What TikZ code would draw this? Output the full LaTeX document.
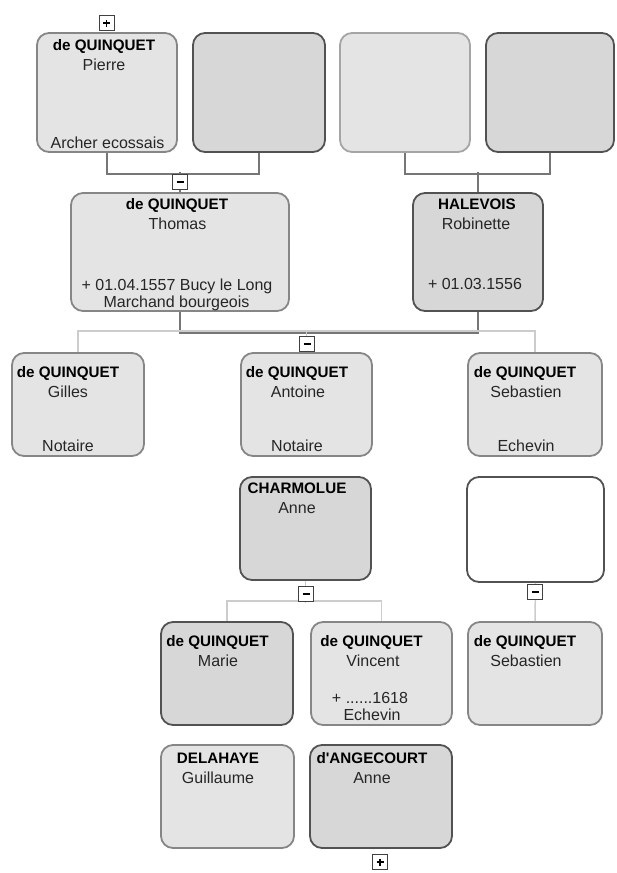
\documentclass[tikz,border=0pt]{standalone}
\usepackage{fontspec}
\setmainfont{Liberation Sans}

\definecolor{cardfill}{RGB}{228,228,228}
\definecolor{cardfilldark}{RGB}{215,215,215}
\definecolor{cardline}{RGB}{134,134,134}
\definecolor{cardlinedark}{RGB}{82,82,82}
\definecolor{cardlinepale}{RGB}{165,165,165}
\definecolor{linkdark}{RGB}{118,118,118}
\definecolor{linklight}{RGB}{204,204,204}

\tikzset{
	card/.style={draw=cardline, fill=cardfill, line width=1.8pt, rounded corners=12pt, inner sep=0pt, minimum height=103pt},
	carddark/.style={card, draw=cardlinedark, fill=cardfilldark},
	cardpale/.style={card, draw=cardlinepale},
	cardwhite/.style={card, draw=cardlinedark, fill=white},
	surname/.style={font=\fontsize{15.2}{18}\selectfont\bfseries, inner sep=0pt, anchor=base},
	given/.style={font=\fontsize{16}{18}\selectfont, text=black!85, inner sep=0pt, anchor=base},
	linkA/.style={draw=linkdark, line width=2pt},
	linkB/.style={draw=linklight, line width=1.5pt},
	toggle/.style={draw=black!75, fill=white, line width=1pt, minimum size=15pt, inner sep=0pt}
}

\begin{document}
\begin{tikzpicture}[x=1pt, y=-1pt]
			%%%%% START %%%%%
			\useasboundingbox (0, 0) rectangle (616, 873);
			
			% grand-parents
			\node[card, minimum width=140pt, minimum height=119pt] (pierre) at (107, 92.5) {};
			\node[carddark, minimum width=132pt, minimum height=119pt] (pierreW) at (259, 92.5) {};
			\node[cardpale, minimum width=130pt, minimum height=119pt] (halevoisF) at (405, 92.5) {};
			\node[carddark, minimum width=128pt, minimum height=119pt] (halevoisM) at (550, 92.5) {};
			
			\node[surname] (pierreA) at (104, 50) {de QUINQUET};
			\node[given] (pierreB) at (104, 70) {Pierre};
			\node[given] (pierreC) at (107.5, 148) {Archer ecossais};
			
			% parents
			\node[card, minimum width=218pt, minimum height=118pt] (thomas) at (180, 252) {};
			\node[carddark, minimum width=130pt, minimum height=118pt] (robinette) at (478, 252) {};
			
			\node[surname] (thomasA) at (177, 209) {de QUINQUET};
			\node[given] (thomasB) at (177.5, 229) {Thomas};
			\node[given] (thomasC) at (177, 290) {+ 01.04.1557 Bucy le Long};
			\node[given] (thomasD) at (176.5, 307) {Marchand bourgeois};
			
			\node[surname] (robinetteA) at (477, 209) {HALEVOIS};
			\node[given] (robinetteB) at (476, 229) {Robinette};
			\node[given] (robinetteC) at (475, 289) {+ 01.03.1556};
			
			% children
			\node[card, minimum width=132pt] (gilles) at (78, 404.5) {};
			\node[card, minimum width=131pt] (antoine) at (306.5, 404.5) {};
			\node[card, minimum width=134pt] (sebastien) at (535, 404.5) {};
			
			\node[surname] (gillesA) at (68, 377) {de QUINQUET};
			\node[given] (gillesB) at (68, 397) {Gilles};
			\node[given] (gillesC) at (68, 451) {Notaire};
			
			\node[surname] (antoineA) at (297, 377) {de QUINQUET};
			\node[given] (antoineB) at (298, 397) {Antoine};
			\node[given] (antoineC) at (297, 451) {Notaire};
			
			\node[surname] (sebastienA) at (525, 377) {de QUINQUET};
			\node[given] (sebastienB) at (526, 397) {Sebastien};
			\node[given] (sebastienC) at (526, 451) {Echevin};
			
			% spouses
			\node[carddark, minimum width=131pt] (charmolue) at (305.5, 528.5) {};
			\node[cardwhite, minimum width=137pt, minimum height=105pt] (sebastienW) at (535.5, 529.5) {};
			
			\node[surname] (charmolueA) at (297, 493) {CHARMOLUE};
			\node[given] (charmolueB) at (297, 513) {Anne};
			
			% grand-children
			\node[carddark, minimum width=132pt] (marie) at (227, 673.5) {};
			\node[card, minimum width=141pt] (vincent) at (381.5, 673.5) {};
			\node[card, minimum width=134pt] (sebastienF) at (535, 673.5) {};
			
			\node[surname] (marieA) at (217.5, 646) {de QUINQUET};
			\node[given] (marieB) at (218, 666) {Marie};
			
			\node[surname] (vincentA) at (371.5, 646) {de QUINQUET};
			\node[given] (vincentB) at (373, 666) {Vincent};
			\node[given] (vincentC) at (370, 703) {+ ......1618};
			\node[given] (vincentD) at (372, 720) {Echevin};
			
			\node[surname] (sebastienFA) at (525, 646) {de QUINQUET};
			\node[given] (sebastienFB) at (526, 666) {Sebastien};
			
			\node[card, minimum width=133pt] (delahaye) at (227.5, 796.5) {};
			\node[carddark, minimum width=142pt] (angecourt) at (381, 796.5) {};
			
			\node[surname] (delahayeA) at (218, 763) {DELAHAYE};
			\node[given] (delahayeB) at (218, 783) {Guillaume};
			
			\node[surname] (angecourtA) at (372, 763) {d\textquotesingle ANGECOURT};
			\node[given] (angecourtB) at (372, 783) {Anne};
			
			% links
			\draw[linkA] (pierre.south) -- ++(0, 21) -| (pierreW.south);
			\draw[linkA] (halevoisF.south) -- ++(0, 21) -| (halevoisM.south);
			\draw[linkA] (robinette.north) -- ++(0, -20);
			\draw[linkA] (thomas.north) -- ++(0, -20);
			\draw[linkA] (thomas.south) -- ++(0, 21) -| (robinette.south);
			
			\draw[linkB] (gilles.north) -- ++(0, -21) -| (sebastien.north);
			\draw[linkB] (antoine.north) -- ++(0, -21);
			\draw[linkB] (marie.north) -- ++(0, -20) -| (vincent.north);
			\draw[linkB] (charmolue.south) -- ++(0, 22);
			\draw[linkB] (sebastienW.south) -- (sebastienF.north);
			
			% toggles
			\node[toggle] (plusA) at (106.5, 23) {};
			\node[toggle] (minusA) at (180, 182) {};
			\node[toggle] (minusB) at (307, 344) {};
			\node[toggle] (minusC) at (306, 594) {};
			\node[toggle] (minusD) at (535, 592) {};
			\node[toggle] (plusB) at (380, 862) {};
			
			\foreach \t in {plusA, minusA, minusB, minusC, minusD, plusB}
				\draw[line width=1.2pt] ([xshift=-3.5pt]\t.center) -- ([xshift=3.5pt]\t.center);
			\foreach \t in {plusA, plusB}
				\draw[line width=1.2pt] ([yshift=-3.5pt]\t.center) -- ([yshift=3.5pt]\t.center);
			
			%%%%% END %%%%%
\end{tikzpicture}
\end{document}
